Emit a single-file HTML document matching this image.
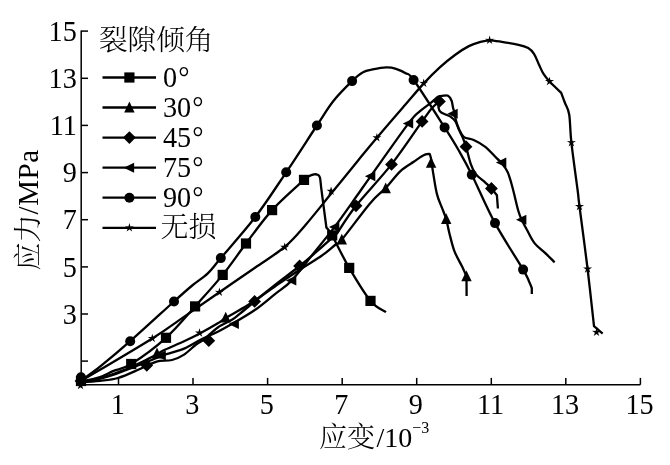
<!DOCTYPE html>
<html lang="zh"><head><meta charset="utf-8"><title>应力-应变曲线</title>
<style>html,body{margin:0;padding:0;background:#fff}body{width:670px;height:465px;overflow:hidden}svg{display:block;will-change:transform;filter:grayscale(1)}text{font-family:"Liberation Serif","Noto Serif CJK SC",serif;fill:#000}.cj{font-weight:300}</style></head><body>
<svg width="670" height="465" viewBox="0 0 670 465">
<rect width="670" height="465" fill="#fff"/>
<g stroke="#000" stroke-width="1.5" fill="none" stroke-linecap="butt">
<path d="M81.2 30.4 V384.7 H640.4"/>
<path d="M81.2 361.1 H88.0"/>
<path d="M118.5 384.7 V377.9"/>
<path d="M81.2 314.0 H88.0"/>
<path d="M193.0 384.7 V377.9"/>
<path d="M81.2 266.9 H88.0"/>
<path d="M267.6 384.7 V377.9"/>
<path d="M81.2 219.7 H88.0"/>
<path d="M342.2 384.7 V377.9"/>
<path d="M81.2 172.6 H88.0"/>
<path d="M416.7 384.7 V377.9"/>
<path d="M81.2 125.4 H88.0"/>
<path d="M491.3 384.7 V377.9"/>
<path d="M81.2 78.3 H88.0"/>
<path d="M565.8 384.7 V377.9"/>
<path d="M81.2 31.1 H88.0"/>
<path d="M640.4 384.7 V377.9"/>
</g>
<g font-size="30">
<text transform="translate(76.8 323.7) scale(0.94 1)" text-anchor="end">3</text>
<text transform="translate(76.8 276.6) scale(0.94 1)" text-anchor="end">5</text>
<text transform="translate(76.8 229.4) scale(0.94 1)" text-anchor="end">7</text>
<text transform="translate(76.8 182.3) scale(0.94 1)" text-anchor="end">9</text>
<text transform="translate(76.8 135.1) scale(0.94 1)" text-anchor="end">11</text>
<text transform="translate(76.8 88.0) scale(0.94 1)" text-anchor="end">13</text>
<text transform="translate(76.8 40.8) scale(0.94 1)" text-anchor="end">15</text>
<text transform="translate(117.7 414.0) scale(0.94 1)" text-anchor="middle">1</text>
<text transform="translate(192.2 414.0) scale(0.94 1)" text-anchor="middle">3</text>
<text transform="translate(266.8 414.0) scale(0.94 1)" text-anchor="middle">5</text>
<text transform="translate(341.4 414.0) scale(0.94 1)" text-anchor="middle">7</text>
<text transform="translate(415.9 414.0) scale(0.94 1)" text-anchor="middle">9</text>
<text transform="translate(490.5 414.0) scale(0.94 1)" text-anchor="middle">11</text>
<text transform="translate(565.0 414.0) scale(0.94 1)" text-anchor="middle">13</text>
<text transform="translate(639.6 414.0) scale(0.94 1)" text-anchor="middle">15</text>
</g>
<text class="cj" font-size="28" x="319" y="446.5">应变<tspan dx="1.5">/10</tspan><tspan font-size="16" dy="-14">−3</tspan></text>
<text class="cj" font-size="28" transform="translate(37.5,270.5) rotate(-90)">应力<tspan font-size="29" letter-spacing="0.6">/MPa</tspan></text>
<text class="cj" font-size="28.6" x="99" y="49.5">裂隙倾角</text>
<path d="M102.5 77.5 H156" stroke="#000" stroke-width="2.3"/>
<g fill="#000"><rect x="124.3" y="72.4" width="10.2" height="10.2"/></g>
<text font-size="30" transform="translate(163.0 87.2) scale(0.94 1)">0<tspan dx="1.2">°</tspan></text>
<path d="M102.5 107.5 H156" stroke="#000" stroke-width="2.3"/>
<g fill="#000"><polygon points="129.4,101.6 134.6,112.5 124.2,112.5"/></g>
<text font-size="30" transform="translate(163.0 117.2) scale(0.94 1)">30<tspan dx="1.2">°</tspan></text>
<path d="M102.5 137.6 H156" stroke="#000" stroke-width="2.3"/>
<g fill="#000"><polygon points="123.0,137.6 129.4,131.2 135.8,137.6 129.4,144.0"/></g>
<text font-size="30" transform="translate(163.0 147.3) scale(0.94 1)">45<tspan dx="1.2">°</tspan></text>
<path d="M102.5 167.7 H156" stroke="#000" stroke-width="2.3"/>
<g fill="#000"><polygon points="123.7,167.7 134.1,162.7 134.1,172.7"/></g>
<text font-size="30" transform="translate(163.0 177.3) scale(0.94 1)">75<tspan dx="1.2">°</tspan></text>
<path d="M102.5 197.7 H156" stroke="#000" stroke-width="2.3"/>
<g fill="#000"><circle cx="129.4" cy="197.7" r="5"/></g>
<text font-size="30" transform="translate(163.0 207.4) scale(0.94 1)">90<tspan dx="1.2">°</tspan></text>
<path d="M102.5 227.8 H156" stroke="#000" stroke-width="2.3"/>
<g fill="#000"><polygon points="129.4,223.1 130.4,226.4 133.9,226.3 131.0,228.3 132.2,231.6 129.4,229.4 126.6,231.6 127.8,228.3 124.9,226.3 128.4,226.4"/></g>
<text class="cj" font-size="28" transform="translate(160.5 237.4)">无损</text>
<g stroke="#000" stroke-width="2.3" fill="none" stroke-linejoin="round" stroke-linecap="butt">
<path d="M81.0 380.5 C84.2 378.2 91.8 373.2 100.0 366.7 C108.2 360.1 117.9 352.1 130.2 341.2 C142.5 330.3 163.7 310.8 174.0 301.5 C184.3 292.2 186.6 290.2 192.2 285.5 C197.8 280.8 203.0 278.0 207.8 273.4 C212.6 268.8 212.9 267.5 220.8 258.1 C228.7 248.7 244.4 231.3 255.3 217.0 C266.2 202.7 275.9 187.6 286.2 172.3 C296.5 157.1 309.0 137.4 316.9 125.5 C324.8 113.6 327.5 108.4 333.4 101.0 C339.3 93.6 347.2 85.9 352.1 81.1 C357.0 76.3 359.6 74.2 363.0 72.3 C366.4 70.3 368.8 70.2 372.7 69.4 C376.6 68.6 382.4 67.5 386.3 67.4 C390.2 67.3 392.8 67.8 396.0 68.8 C399.2 69.8 402.7 71.3 405.6 73.2 C408.6 75.1 407.2 71.0 413.7 80.0 C420.2 89.0 437.1 115.7 444.6 127.4 C452.1 139.1 454.0 142.1 458.5 150.0 C463.0 157.9 465.7 162.5 471.8 174.7 C477.9 186.9 486.4 207.3 495.0 223.1 C503.6 238.9 517.4 259.7 523.1 269.6 C528.9 279.5 528.0 279.3 529.5 282.4 C531.0 285.5 531.4 287.2 531.8 288.2 C531.8 289.2 531.8 293.0 531.8 294.0"/>
<path d="M81.0 381.5 C84.2 380.8 94.6 378.8 100.0 377.0 C105.4 375.2 108.4 373.1 113.6 370.9 C118.8 368.7 122.5 369.5 131.2 364.0 C139.9 358.5 155.3 347.4 166.0 337.8 C176.7 328.2 185.7 316.9 195.1 306.4 C204.5 295.9 214.2 285.4 222.7 274.9 C231.2 264.4 237.8 254.3 246.0 243.5 C254.2 232.7 262.4 220.7 272.1 210.1 C281.8 199.5 298.7 184.9 304.0 179.9 C304.8 179.3 307.2 177.2 308.9 176.3 C310.5 175.4 312.5 174.7 313.9 174.4 C315.3 174.1 316.5 174.2 317.5 174.7 C318.5 175.2 319.3 175.4 319.9 177.5 C320.5 179.6 320.9 185.5 321.1 187.1 C322.0 193.8 325.5 220.8 326.4 227.5 C327.3 228.8 328.2 228.6 332.0 235.3 C335.8 242.0 342.8 257.0 349.2 267.9 C355.6 278.8 364.4 293.5 370.5 300.9 C376.6 308.3 383.4 310.2 386.0 312.1"/>
<path d="M81.0 381.0 C92.9 373.9 135.0 349.2 152.3 338.4 C169.6 327.6 173.8 323.8 185.0 316.1 C196.2 308.4 207.7 300.4 219.4 292.3 C231.1 284.2 244.1 275.2 255.0 267.7 C265.9 260.1 276.2 254.1 284.6 247.0 C293.0 239.9 297.4 234.3 305.3 225.2 C313.2 216.1 323.1 203.5 332.0 192.6 C340.9 181.7 351.0 169.2 358.5 160.0 C366.0 150.8 369.1 146.9 376.9 137.7 C384.6 128.5 397.2 114.0 405.0 105.0 C412.8 96.0 417.8 89.9 423.6 83.6 C429.4 77.3 434.5 72.2 439.8 67.4 C445.1 62.6 450.5 58.3 455.3 54.8 C460.1 51.2 464.7 48.2 468.9 46.1 C473.1 44.0 477.1 42.9 480.5 41.9 C483.9 40.9 486.1 40.3 489.6 40.3 C493.2 40.3 497.0 41.1 501.8 41.9 C506.6 42.6 514.1 43.8 518.5 44.8 C522.9 45.8 525.6 46.6 528.2 48.1 C530.8 49.6 532.2 51.2 534.0 53.9 C535.8 56.6 537.3 61.1 538.9 64.5 C540.5 67.9 541.9 71.4 543.7 74.2 C545.5 77.0 546.6 78.4 549.5 81.5 C552.4 84.6 559.2 90.8 561.1 92.6 C561.7 94.2 563.4 98.8 564.8 102.5 C566.1 106.2 568.1 107.8 569.2 114.5 C570.3 121.2 570.0 130.0 571.4 142.6 C572.8 155.2 576.2 179.3 577.6 190.0 C579.0 200.7 577.8 193.3 579.5 206.5 C581.2 219.7 585.2 249.1 587.6 269.0 C590.0 288.9 592.9 316.6 594.0 326.1 C595.5 327.3 601.2 332.3 602.7 333.5"/>
<path d="M81.0 382.3 C84.2 382.1 93.8 381.5 100.0 380.8 C106.2 380.1 111.5 379.9 117.9 378.0 C124.3 376.1 133.4 371.8 138.2 369.7 C143.0 367.6 144.3 366.7 146.8 365.6 C149.3 364.5 151.1 363.7 153.3 362.9 C155.5 362.1 156.9 361.4 160.0 360.9 C163.1 360.4 168.0 361.1 172.0 360.0 C176.0 358.9 180.1 357.2 184.1 354.6 C188.1 352.0 192.7 347.1 196.1 344.5 C199.5 341.9 200.9 341.8 204.5 339.0 C208.1 336.2 213.2 330.7 217.8 327.5 C222.4 324.3 228.6 321.9 232.3 319.6 C236.0 317.3 236.3 316.6 240.0 313.6 C243.7 310.6 248.8 306.3 254.6 301.5 C260.4 296.7 267.5 290.9 275.0 285.0 C282.5 279.1 292.4 271.8 299.6 266.0 C306.8 260.2 311.8 255.9 318.0 250.5 C324.2 245.1 333.8 236.3 337.0 233.5 C340.2 228.9 346.9 217.3 356.0 205.8 C365.1 194.3 380.5 178.5 391.5 164.4 C402.5 150.3 415.4 130.8 422.1 121.4 C428.9 112.0 429.1 111.3 432.0 108.0 C434.9 104.7 438.2 102.5 439.4 101.4 C439.2 102.4 438.3 105.8 438.5 107.6 C438.7 109.4 439.5 110.9 440.8 112.1 C442.1 113.3 444.6 114.0 446.2 114.8 C447.8 115.6 449.2 115.7 450.7 116.8 C452.2 117.9 454.0 119.2 455.4 121.3 C456.8 123.4 457.7 126.9 458.9 129.6 C460.1 132.3 461.4 134.5 462.6 137.3 C463.8 140.2 464.6 142.2 466.0 146.7 C467.4 151.2 469.2 159.7 470.8 164.2 C472.4 168.7 473.2 170.8 475.6 173.9 C478.0 177.0 482.7 180.2 485.3 182.6 C487.9 185.0 489.5 186.4 491.4 188.5 C493.3 190.6 496.0 194.1 496.9 195.2 C497.1 197.4 497.7 206.3 497.9 208.5"/>
<path d="M81.0 382.0 C84.2 381.4 94.2 379.8 100.0 378.3 C105.8 376.8 110.8 374.9 116.0 373.0 C121.2 371.1 126.7 369.1 131.5 367.0 C136.3 364.9 140.8 362.6 145.0 360.5 C149.2 358.4 153.7 356.1 157.0 354.3 C160.3 352.5 160.3 352.0 164.8 349.8 C169.3 347.6 178.3 344.0 184.1 341.3 C189.9 338.6 194.2 336.5 199.8 333.5 C205.4 330.5 213.5 325.9 217.8 323.3 C222.1 320.7 220.7 321.1 225.7 318.0 C230.7 314.9 239.8 310.2 248.0 305.0 C256.2 299.8 266.3 292.4 275.0 286.5 C283.7 280.6 292.3 274.6 300.0 269.5 C307.7 264.4 315.5 260.1 321.3 256.0 C327.1 251.9 331.6 247.7 335.0 245.0 C338.4 242.3 336.0 246.5 341.8 239.6 C347.6 232.7 362.7 212.0 370.0 203.4 C377.3 194.8 380.6 193.4 385.6 188.1 C390.6 182.8 395.5 175.7 400.2 171.3 C404.9 166.9 410.4 164.1 413.7 161.8 C417.0 159.5 418.1 158.6 420.0 157.4 C421.9 156.2 423.4 155.2 425.0 154.6 C426.6 154.0 428.8 153.9 429.6 153.8 C429.9 154.7 430.5 155.9 431.1 159.0 C431.7 162.1 432.1 166.8 433.1 172.6 C434.1 178.4 435.4 188.1 436.9 193.9 C438.3 199.7 440.2 203.2 441.8 207.4 C443.4 211.6 444.9 214.8 446.2 219.2 C447.5 223.6 448.1 228.4 449.5 233.7 C450.9 239.0 452.3 245.6 454.4 251.1 C456.5 256.6 460.1 262.4 462.1 266.6 C464.1 270.8 465.8 274.7 466.5 276.3 C466.5 279.6 466.6 292.7 466.6 296.0"/>
<path d="M81.0 382.0 C84.2 381.4 94.2 380.0 100.0 378.6 C105.8 377.2 110.8 375.6 116.0 373.8 C121.2 372.0 126.2 370.1 131.5 368.0 C136.8 365.9 143.1 363.5 148.0 361.5 C152.9 359.5 158.3 357.1 161.1 356.0 C163.9 354.9 161.0 355.8 164.8 354.6 C168.6 353.4 178.1 351.1 184.1 348.6 C190.1 346.1 195.4 342.3 201.0 339.5 C206.6 336.7 212.1 334.6 217.8 331.7 C223.5 328.8 229.1 325.6 235.3 322.0 C241.5 318.4 248.6 314.4 255.2 309.8 C261.8 305.2 268.9 299.0 275.0 294.1 C281.1 289.2 285.3 287.3 291.6 280.6 C297.9 273.9 305.8 262.9 313.0 254.0 C320.2 245.1 327.2 236.7 334.6 226.9 C342.0 217.1 351.5 203.4 357.5 195.0 C363.5 186.6 362.1 188.2 370.6 176.3 C379.1 164.4 400.3 134.2 408.5 123.4 C416.7 112.6 416.1 114.7 420.0 111.2 C423.9 107.7 428.7 104.6 431.7 102.2 C434.7 99.8 436.0 97.8 438.0 96.7 C440.0 95.6 441.8 95.9 443.5 95.7 C445.2 95.5 446.6 95.0 448.0 95.8 C449.4 96.6 450.8 98.8 451.6 100.8 C452.4 102.8 452.6 105.7 453.0 107.6 C453.4 109.5 453.8 109.8 454.3 112.1 C454.8 114.3 455.3 118.2 456.1 121.1 C456.9 124.0 457.9 126.7 459.2 129.4 C460.5 132.1 461.6 135.3 464.0 137.1 C466.4 138.9 470.1 138.4 473.7 140.0 C477.2 141.6 481.4 143.7 485.3 146.8 C489.2 149.9 494.1 155.7 496.9 158.4 C499.6 161.1 500.0 160.9 501.8 163.2 C503.6 165.4 506.0 168.5 507.6 171.9 C509.2 175.3 510.3 179.7 511.4 183.5 C512.5 187.3 513.3 190.5 514.4 195.0 C515.5 199.5 517.0 206.4 518.2 210.5 C519.4 214.6 520.2 216.6 521.7 219.8 C523.2 223.0 524.7 225.9 526.9 229.8 C529.1 233.7 531.6 239.5 534.7 243.4 C537.8 247.3 542.0 249.9 545.3 253.1 C548.6 256.2 553.0 260.8 554.6 262.3"/>
</g>
<g fill="#000">
<circle cx="81.0" cy="377.2" r="5"/>
<circle cx="130.2" cy="341.2" r="5"/>
<circle cx="174.0" cy="301.5" r="5"/>
<circle cx="220.8" cy="258.1" r="5"/>
<circle cx="255.3" cy="217.0" r="5"/>
<circle cx="286.2" cy="172.3" r="5"/>
<circle cx="316.9" cy="125.5" r="5"/>
<circle cx="352.1" cy="81.1" r="5"/>
<circle cx="413.6" cy="80.0" r="5"/>
<circle cx="444.6" cy="127.4" r="5"/>
<circle cx="471.8" cy="174.7" r="5"/>
<circle cx="495.0" cy="223.1" r="5"/>
<circle cx="523.1" cy="269.6" r="5"/>
<rect x="75.9" y="375.9" width="10.2" height="10.2"/>
<rect x="126.1" y="358.9" width="10.2" height="10.2"/>
<rect x="160.9" y="332.7" width="10.2" height="10.2"/>
<rect x="190.0" y="301.3" width="10.2" height="10.2"/>
<rect x="217.6" y="269.8" width="10.2" height="10.2"/>
<rect x="240.9" y="238.4" width="10.2" height="10.2"/>
<rect x="267.0" y="205.0" width="10.2" height="10.2"/>
<rect x="298.9" y="174.8" width="10.2" height="10.2"/>
<rect x="327.1" y="230.3" width="10.2" height="10.2"/>
<rect x="344.1" y="262.8" width="10.2" height="10.2"/>
<rect x="365.4" y="295.8" width="10.2" height="10.2"/>
<polygon points="80.5,380.8 81.5,384.1 85.0,384.0 82.1,386.0 83.3,389.3 80.5,387.2 77.7,389.3 78.9,386.0 76.0,384.0 79.5,384.1"/>
<polygon points="152.3,333.7 153.3,337.0 156.8,336.9 153.9,338.9 155.1,342.2 152.3,340.1 149.5,342.2 150.7,338.9 147.8,336.9 151.3,337.0"/>
<polygon points="199.5,328.3 200.5,331.6 204.0,331.5 201.1,333.5 202.3,336.8 199.5,334.7 196.7,336.8 197.9,333.5 195.0,331.5 198.5,331.6"/>
<polygon points="219.4,287.6 220.4,290.9 223.9,290.8 221.0,292.8 222.2,296.1 219.4,294.0 216.6,296.1 217.8,292.8 214.9,290.8 218.4,290.9"/>
<polygon points="284.7,242.5 285.7,245.8 289.2,245.7 286.3,247.7 287.5,251.0 284.7,248.9 281.9,251.0 283.1,247.7 280.2,245.7 283.7,245.8"/>
<polygon points="331.1,186.5 332.1,189.8 335.6,189.7 332.7,191.7 333.9,195.0 331.1,192.9 328.3,195.0 329.5,191.7 326.6,189.7 330.1,189.8"/>
<polygon points="376.9,133.0 377.9,136.3 381.4,136.2 378.5,138.2 379.7,141.5 376.9,139.4 374.1,141.5 375.3,138.2 372.4,136.2 375.9,136.3"/>
<polygon points="423.7,78.6 424.7,81.9 428.2,81.8 425.3,83.8 426.5,87.1 423.7,85.0 420.9,87.1 422.1,83.8 419.2,81.8 422.7,81.9"/>
<polygon points="489.6,35.6 490.6,38.9 494.1,38.8 491.2,40.8 492.4,44.1 489.6,42.0 486.8,44.1 488.0,40.8 485.1,38.8 488.6,38.9"/>
<polygon points="549.5,76.8 550.5,80.1 554.0,80.0 551.1,82.0 552.3,85.3 549.5,83.2 546.7,85.3 547.9,82.0 545.0,80.0 548.5,80.1"/>
<polygon points="571.4,137.9 572.4,141.2 575.9,141.1 573.0,143.1 574.2,146.4 571.4,144.3 568.6,146.4 569.8,143.1 566.9,141.1 570.4,141.2"/>
<polygon points="579.5,201.8 580.5,205.1 584.0,205.0 581.1,207.0 582.3,210.3 579.5,208.2 576.7,210.3 577.9,207.0 575.0,205.0 578.5,205.1"/>
<polygon points="587.6,264.3 588.6,267.6 592.1,267.5 589.2,269.5 590.4,272.8 587.6,270.7 584.8,272.8 586.0,269.5 583.1,267.5 586.6,267.6"/>
<polygon points="596.5,327.6 597.5,330.9 601.0,330.8 598.1,332.8 599.3,336.1 596.5,334.0 593.7,336.1 594.9,332.8 592.0,330.8 595.5,330.9"/>
<polygon points="74.6,381.0 81.0,374.6 87.4,381.0 81.0,387.4"/>
<polygon points="140.4,365.3 146.8,358.9 153.2,365.3 146.8,371.7"/>
<polygon points="202.4,340.7 208.8,334.3 215.2,340.7 208.8,347.1"/>
<polygon points="248.2,301.4 254.6,295.0 261.0,301.4 254.6,307.8"/>
<polygon points="293.2,266.0 299.6,259.6 306.0,266.0 299.6,272.4"/>
<polygon points="349.6,205.8 356.0,199.4 362.4,205.8 356.0,212.2"/>
<polygon points="385.1,164.4 391.5,158.0 397.9,164.4 391.5,170.8"/>
<polygon points="415.7,121.4 422.1,115.0 428.5,121.4 422.1,127.8"/>
<polygon points="433.0,101.4 439.4,95.0 445.8,101.4 439.4,107.8"/>
<polygon points="459.6,146.7 466.0,140.3 472.4,146.7 466.0,153.1"/>
<polygon points="485.0,188.5 491.4,182.1 497.8,188.5 491.4,194.9"/>
<polygon points="81.0,375.1 86.2,385.9 75.8,385.9"/>
<polygon points="157.0,347.6 162.2,358.4 151.8,358.4"/>
<polygon points="225.7,311.7 230.9,322.5 220.5,322.5"/>
<polygon points="341.8,233.8 347.0,244.6 336.6,244.6"/>
<polygon points="385.7,182.4 390.9,193.2 380.5,193.2"/>
<polygon points="431.1,157.0 436.3,167.8 425.9,167.8"/>
<polygon points="446.2,213.3 451.4,224.1 441.0,224.1"/>
<polygon points="466.5,270.5 471.7,281.3 461.3,281.3"/>
<polygon points="75.3,381.0 85.7,376.0 85.7,386.0"/>
<polygon points="155.4,355.6 165.8,350.6 165.8,360.6"/>
<polygon points="228.5,323.9 238.9,318.9 238.9,328.9"/>
<polygon points="285.9,280.6 296.3,275.6 296.3,285.6"/>
<polygon points="328.9,226.9 339.3,221.9 339.3,231.9"/>
<polygon points="364.9,176.3 375.3,171.3 375.3,181.3"/>
<polygon points="402.8,123.4 413.2,118.4 413.2,128.4"/>
<polygon points="447.3,113.8 457.7,108.8 457.7,118.8"/>
<polygon points="495.9,162.6 506.3,157.6 506.3,167.6"/>
<polygon points="516.0,219.8 526.4,214.8 526.4,224.8"/>
</g>
</svg></body></html>
